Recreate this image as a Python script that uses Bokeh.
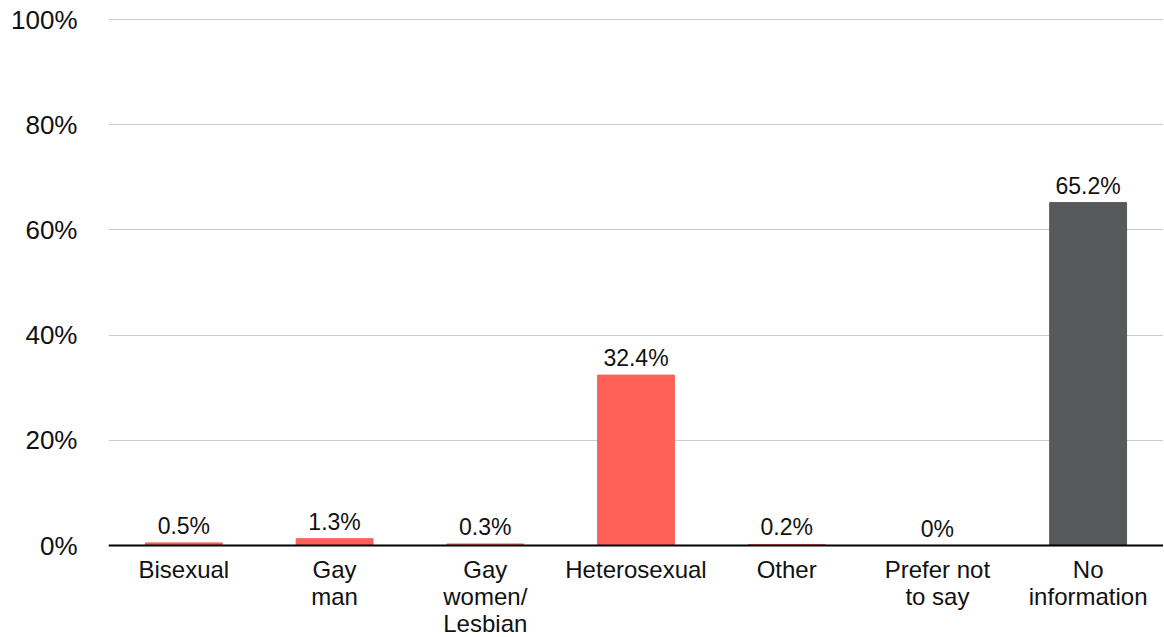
from bokeh.plotting import figure
from bokeh.models import ColumnDataSource, Range1d, FixedTicker, LabelSet, Span
from bokeh.core.properties import value
from bokeh.embed import file_html
from bokeh.resources import INLINE

categories = ["Bisexual", "Gay\nman", "Gay\nwomen/\nLesbian", "Heterosexual", "Other", "Prefer not\nto say", "No\ninformation"]
values = [0.5, 1.3, 0.3, 32.4, 0.2, 0.0, 65.2]
value_labels = ["0.5%", "1.3%", "0.3%", "32.4%", "0.2%", "0%", "65.2%"]
colors = ["#FF6159"] * 6 + ["#58595B"]
y_ticks = [0, 20, 40, 60, 80, 100]

xpos = list(range(len(categories)))
src = ColumnDataSource(dict(x=xpos, val=values, lab=value_labels, col=colors))

# one centred label per line of each category name
lx, ltxt, loff = [], [], []
for i, name in enumerate(categories):
    for j, line in enumerate(name.split("\n")):
        lx.append(i)
        ltxt.append(line)
        loff.append(-10 - 27 * j)
lsrc = ColumnDataSource(dict(x=lx, y=[0] * len(lx), t=ltxt, off=loff))

# the frame extends below zero so the category labels can sit inside it
p = figure(width=1163, height=635, x_range=Range1d(-0.5, len(categories) - 0.5),
           y_range=Range1d(-17.11, 100.2), output_backend="svg", toolbar_location=None,
           x_axis_location=None,
           min_border_left=108, min_border_right=0, min_border_top=18, min_border_bottom=0)
p.outline_line_color = None
p.background_fill_color = "white"
p.border_fill_color = "white"

p.vbar(x="x", top="val", width=0.51, color="col", source=src)
p.add_layout(Span(location=0, dimension="width", line_color="black", line_width=2))
p.add_layout(LabelSet(x="x", y="val", text="lab", source=src, text_align="center",
                      text_baseline="bottom", y_offset=4, text_font=value("Liberation Sans"),
                      text_font_size="23px", text_color="#111111"))
p.add_layout(LabelSet(x="x", y="y", text="t", source=lsrc, text_align="center",
                      text_baseline="top", y_offset="off", text_font=value("Liberation Sans"),
                      text_font_size="24px", text_color="#111111"))

p.xgrid.grid_line_color = None
p.ygrid.ticker = FixedTicker(ticks=y_ticks)
p.ygrid.grid_line_color = "#CCCCCC"
p.ygrid.grid_line_width = 1
p.yaxis.ticker = FixedTicker(ticks=y_ticks)
p.yaxis.major_label_overrides = {t: f"{t}%" for t in y_ticks}
p.yaxis.axis_line_color = None
p.yaxis.major_tick_line_color = None
p.yaxis.minor_tick_line_color = None
p.yaxis.major_label_standoff = 25
p.yaxis.major_label_text_font = "Liberation Sans"
p.yaxis.major_label_text_font_size = "26px"
p.yaxis.major_label_text_color = "#111111"

open("out.html", "w").write(file_html(p, INLINE))
